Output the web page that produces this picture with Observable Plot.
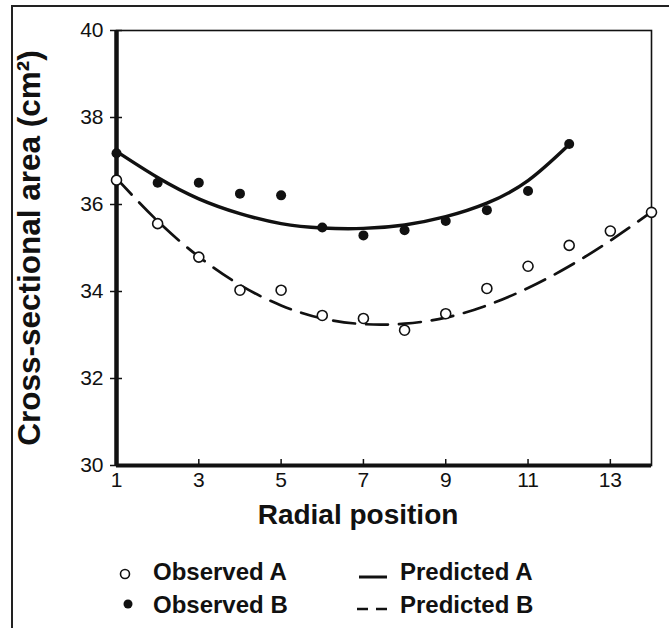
<!DOCTYPE html>
<html>
<head>
<meta charset="utf-8">
<script src="https://cdn.jsdelivr.net/npm/d3@7"></script>
<script src="https://cdn.jsdelivr.net/npm/@observablehq/plot@0.6"></script>
<style>
  html, body { margin: 0; padding: 0; background: #fff; }
  #wrap { position: relative; width: 669px; height: 628px; overflow: hidden; font-family: "Liberation Sans", Arial, sans-serif; color: #111; }
  #border { position: absolute; left: 11px; top: 5px; width: 700px; height: 700px; border-left: 2px solid #222; border-top: 2px solid #222; box-sizing: border-box; }
  #chart { position: absolute; left: 0; top: 0; }
  #legend { position: absolute; left: 0; top: 540px; width: 669px; height: 88px; }
  .item { position: absolute; font-size: 24px; font-weight: bold; line-height: 1; white-space: nowrap; }
  .sym { position: absolute; }
</style>
</head>
<body>
<div id="wrap">
  <div id="border"></div>
  <div id="chart"></div>
  <div id="legend"></div>
</div>
<script>
// ---- data ----
const positionsA = [1, 2, 3, 4, 5, 6, 7, 8, 9, 10, 11, 12, 13, 14];
const observedA  = [36.56, 35.56, 34.79, 34.03, 34.03, 33.45, 33.38, 33.11, 33.49, 34.07, 34.58, 35.06, 35.39, 35.82];
const positionsB = [1, 2, 3, 4, 5, 6, 7, 8, 9, 10, 11, 12];
const observedB  = [37.18, 36.50, 36.50, 36.25, 36.21, 35.47, 35.29, 35.41, 35.62, 35.87, 36.31, 37.39];
const predictedAValues = [37.22, 36.62, 36.13, 35.79, 35.56, 35.46, 35.45, 35.53, 35.72, 36.03, 36.55, 37.38];
const predictedBValues = [36.60, 35.62, 34.80, 34.15, 33.68, 33.38, 33.25, 33.26, 33.40, 33.68, 34.08, 34.58, 35.17, 35.83];
const xTicks = [1, 3, 5, 7, 9, 11, 13];
const yTicks = [30, 32, 34, 36, 38, 40];
const xLabel = "Radial position";
const yLabel = "Cross-sectional area (cm²)";
const legendLabels = ["Observed A", "Observed B", "Predicted A", "Predicted B"];

const obsA = positionsA.map((x, i) => ({x, y: observedA[i]}));
const obsB = positionsB.map((x, i) => ({x, y: observedB[i]}));
const predA = positionsB.map((x, i) => ({x, y: predictedAValues[i]}));
const predB = positionsA.map((x, i) => ({x, y: predictedBValues[i]}));

const ink = "#111";
const W = 669, H = 540;
const mL = 116, mR = 18, mT = 30, mB = 75;
const plotW = W - mL - mR, plotH = H - mT - mB;

const chart = Plot.plot({
  width: W,
  height: H,
  marginLeft: mL,
  marginRight: mR,
  marginTop: mT,
  marginBottom: mB,
  style: { background: "transparent", fontFamily: "'Liberation Sans', Arial, sans-serif", color: ink, overflow: "visible" },
  x: { domain: [1, 14] },
  y: { domain: [30, 40] },
  marks: [
    Plot.frame({ stroke: ink, strokeWidth: 1.6 }),
    // inward ticks
    Plot.tickX(xTicks, { x: d => d, insetTop: plotH - 6, stroke: ink, strokeWidth: 1.5 }),
    Plot.tickY(yTicks, { y: d => d, insetRight: plotW - 6, stroke: ink, strokeWidth: 1.5 }),
    Plot.axisX(xTicks, { tickSize: 0, tickPadding: 7, fontSize: 21, label: null, fill: ink }),
    Plot.axisY(yTicks, { tickSize: 6, tickPadding: 7, fontSize: 21, label: null, fill: ink, stroke: ink, strokeWidth: 1.5 }),
    Plot.ruleY([30], { stroke: ink, strokeWidth: 4 }),
    Plot.ruleX([1], { stroke: ink, strokeWidth: 4.5 }),
    Plot.line(predA, { x: "x", y: "y", curve: "natural", stroke: ink, strokeWidth: 3.4 }),
    Plot.line(predB, { x: "x", y: "y", curve: "natural", stroke: ink, strokeWidth: 2.7, strokeDasharray: "22,11" }),
    Plot.dot(obsA, { x: "x", y: "y", r: 5, stroke: ink, strokeWidth: 1.6, fill: "white" }),
    Plot.dot(obsB, { x: "x", y: "y", r: 5, fill: ink, stroke: "none" }),
    Plot.text([xLabel], { frameAnchor: "bottom", dx: -26, dy: 58, fontSize: 28, fontWeight: "bold", fill: ink }),
    Plot.text([yLabel], { frameAnchor: "left", textAnchor: "middle", rotate: -90, dx: -87, fontSize: 31.5, fontWeight: "bold", fill: ink })
  ]
});
document.getElementById("chart").appendChild(chart);

// ---- legend (HTML below the SVG) ----
const legend = document.getElementById("legend");
function addItem(label, symSvg, symLeft, symTop, textLeft, textTop) {
  const s = document.createElement("div");
  s.className = "sym";
  s.style.left = symLeft + "px";
  s.style.top = symTop + "px";
  s.innerHTML = symSvg;
  legend.appendChild(s);
  const t = document.createElement("div");
  t.className = "item";
  t.style.left = textLeft + "px";
  t.style.top = textTop + "px";
  t.textContent = label;
  legend.appendChild(t);
}
addItem(legendLabels[0], `<svg width="14" height="14"><circle cx="7" cy="7" r="4.5" fill="white" stroke="${ink}" stroke-width="1.6"/></svg>`, 118, 27, 153, 20);
addItem(legendLabels[1], `<svg width="14" height="14"><circle cx="7" cy="7" r="4.5" fill="${ink}"/></svg>`, 121, 57, 153, 53);
addItem(legendLabels[2], `<svg width="32" height="8"><line x1="1" y1="4" x2="29" y2="4" stroke="${ink}" stroke-width="3"/></svg>`, 358, 27, 400, 20);
addItem(legendLabels[3], `<svg width="32" height="8"><line x1="0" y1="4" x2="30" y2="4" stroke="${ink}" stroke-width="2.7" stroke-dasharray="11,8"/></svg>`, 357, 59, 400, 53);
</script>
</body>
</html>
